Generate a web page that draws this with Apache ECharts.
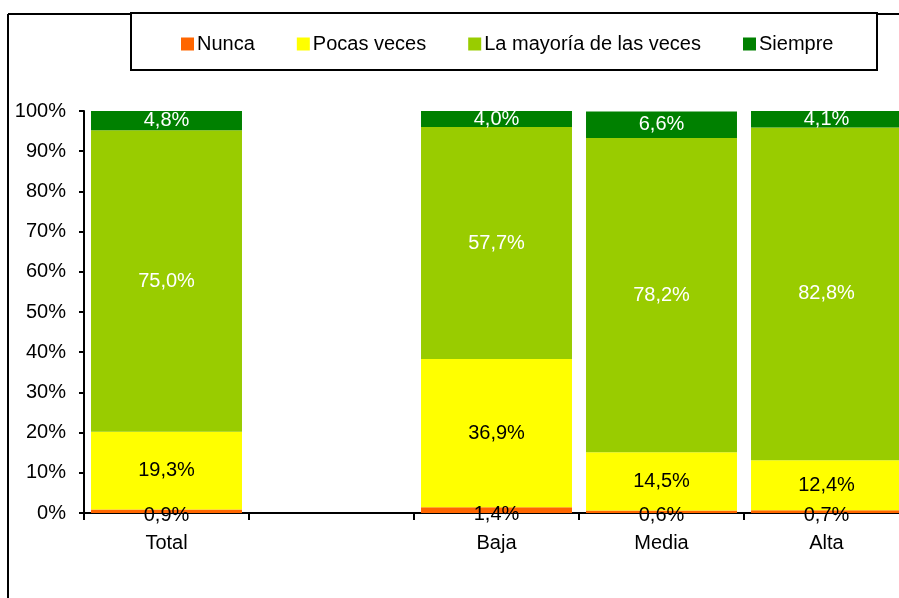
<!DOCTYPE html>
<html>
<head>
<meta charset="utf-8">
<script src="https://cdn.jsdelivr.net/npm/echarts@6/dist/echarts.min.js"></script>
<style>
  html, body { margin: 0; padding: 0; background: #fff; overflow: hidden; }
  #chart { width: 930px; height: 598px; }
</style>
</head>
<body>
<div id="chart"></div>
<script>
const categories = ['Total', '', 'Baja', 'Media', 'Alta'];
const nunca = [0.9, null, 1.4, 0.6, 0.7];
const pocasVeces = [19.3, null, 36.9, 14.5, 12.4];
const mayoria = [75.0, null, 57.7, 78.2, 82.8];
const siempre = [4.8, null, 4.0, 6.6, 4.1];

const font = 'Liberation Sans, Arial, sans-serif';

function fmt(p) {
  return p.value.toFixed(1).replace('.', ',') + '%';
}

function makeSeries(name, data, color, labelColor, offset) {
  return {
    name: name,
    type: 'bar',
    stack: 'all',
    data: data,
    barCategoryGap: '8.5%',
    itemStyle: { color: color },
    label: {
      show: true,
      position: 'inside',
      offset: offset || [0, 0],
      formatter: fmt,
      color: labelColor,
      fontFamily: font,
      fontSize: 20
    },
    emphasis: { disabled: true }
  };
}

const chart = echarts.init(document.getElementById('chart'));
chart.setOption({
  animation: false,
  backgroundColor: '#fff',
  graphic: [
    { type: 'line', shape: { x1: 8, y1: 14, x2: 8, y2: 598 }, style: { stroke: '#000', lineWidth: 2 } },
    { type: 'line', shape: { x1: 8, y1: 14, x2: 930, y2: 14 }, style: { stroke: '#000', lineWidth: 2 } },
    { type: 'rect', shape: { x: 131, y: 13, width: 746, height: 57 }, style: { fill: '#fff', stroke: '#000', lineWidth: 2 }, z: 5 }
  ],
  legend: {
    left: 176,
    top: 29,
    z: 10,
    itemWidth: 13,
    itemHeight: 13,
    itemGap: 42,
    icon: 'rect',
    textStyle: { fontFamily: font, fontSize: 20, color: '#000', padding: [0, 0, 0, -2] },
    data: ['Nunca', 'Pocas veces', 'La mayoría de las veces', 'Siempre']
  },
  grid: { left: 84, top: 111, width: 825, height: 402 },
  xAxis: {
    type: 'category',
    data: categories,
    axisLine: { lineStyle: { color: '#000', width: 2 } },
    axisTick: { show: true, interval: 0, alignWithLabel: false, length: 7, lineStyle: { color: '#000', width: 2 } },
    axisLabel: { interval: 0, color: '#000', fontFamily: font, fontSize: 20, margin: 20 }
  },
  yAxis: {
    type: 'value',
    min: 0,
    max: 100,
    interval: 10,
    axisLine: { show: true, lineStyle: { color: '#000', width: 2 } },
    axisTick: { show: true, length: 5, lineStyle: { color: '#000', width: 2 } },
    splitLine: { show: false },
    axisLabel: { color: '#000', fontFamily: font, fontSize: 20, margin: 18, formatter: '{value}%' }
  },
  series: [
    makeSeries('Nunca', nunca, '#FF6600', '#000', [0, 4]),
    makeSeries('Pocas veces', pocasVeces, '#FFFF00', '#000'),
    makeSeries('La mayoría de las veces', mayoria, '#99CC00', '#fff'),
    makeSeries('Siempre', siempre, '#008000', '#fff')
  ]
});
</script>
</body>
</html>
